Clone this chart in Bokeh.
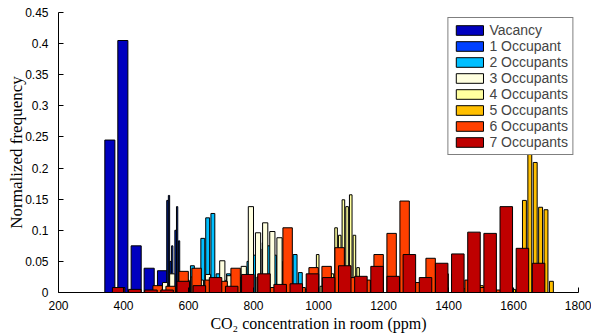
from bokeh.plotting import figure
from bokeh.models import Range1d, FixedTicker, Legend, LegendItem, ColumnDataSource
from bokeh.embed import file_html
from bokeh.resources import INLINE

# ---------------- data ----------------
categories = ["Vacancy", "1 Occupant", "2 Occupants", "3 Occupants",
              "4 Occupants", "5 Occupants", "6 Occupants", "7 Occupants"]

vac_x = [358, 398, 439, 479, 520]
vac_y = [0.245, 0.405, 0.075, 0.039, 0.035]

one_x = [535, 540, 545, 550, 555, 560, 565, 571]
one_y = [0.148, 0.156, 0.05, 0.075, 0.02, 0.100, 0.138, 0.083]

two_x = [612, 628, 644, 659, 675, 691, 707, 723, 738, 754, 770, 786,
         802, 817, 833, 849, 865, 881, 896, 912, 928, 944, 960]
two_y = [0.043, 0.020, 0.087, 0.120, 0.127, 0.030, 0.020, 0.030, 0.030, 0.025, 0.035, 0.050,
         0.060, 0.070, 0.080, 0.075, 0.060, 0.050, 0.050, 0.035, 0.061, 0.032, 0.005]

three_x = [528, 550, 572, 594, 616, 638, 660, 682, 704, 726, 748, 770,
           792, 814, 836, 858, 880, 902, 924]
three_y = [0.016, 0.030, 0.010, 0.020, 0.025, 0.020, 0.029, 0.020, 0.051, 0.027, 0.030, 0.042,
           0.138, 0.096, 0.112, 0.098, 0.088, 0.020, 0.008]

four_x = [997.5, 1008.8, 1020.1, 1031.4, 1042.7, 1054.0, 1065.3, 1076.6,
          1087.9, 1099.2, 1110.5, 1121.8, 1133.1]
four_y = [0.061, 0.010, 0.010, 0.020, 0.030, 0.104, 0.092, 0.149,
          0.138, 0.157, 0.092, 0.040, 0.005]

five_x = [1451.0, 1467.6, 1484.2, 1500.8, 1517.4, 1534.0, 1550.6, 1567.2, 1583.8,
          1600.4, 1617.0, 1633.6, 1650.2, 1666.8, 1683.4, 1700.0, 1716.6]
five_y = [0.006, 0.003, 0.003, 0.011, 0.003, 0.003, 0.003, 0.005, 0.005,
          0.005, 0.040, 0.148, 0.270, 0.209, 0.137, 0.133, 0.018]

six_x = [505, 545, 585, 625, 665, 705, 745, 785, 825, 865, 905, 945, 985, 1025,
         1065, 1105, 1145, 1185, 1225, 1265, 1305, 1345, 1385, 1425, 1465, 1505, 1545]
six_y = [0.011, 0.010, 0.034, 0.039, 0.020, 0.018, 0.039, 0.020, 0.025, 0.008, 0.104, 0.008, 0.040, 0.042,
         0.072, 0.024, 0.020, 0.061, 0.095, 0.147, 0.016, 0.055, 0.030, 0.030, 0.020, 0.008, 0.004]

seven_x = [385.0, 434.7, 484.4, 534.1, 583.8, 633.5, 683.2, 732.9, 782.6, 832.3, 882.0, 931.7, 981.4, 1031.1,
           1080.8, 1130.5, 1180.2, 1229.9, 1279.6, 1329.3, 1379.0, 1428.7, 1478.4, 1528.1, 1577.8, 1627.5, 1677.2]
seven_y = [0.008, 0.005, 0.004, 0.004, 0.018, 0.011, 0.024, 0.010, 0.029, 0.030, 0.013, 0.014, 0.030, 0.024,
           0.043, 0.026, 0.042, 0.026, 0.061, 0.024, 0.047, 0.062, 0.097, 0.095, 0.138, 0.071, 0.047]

x_ticks = [200, 400, 600, 800, 1000, 1200, 1400, 1600, 1800]
x_tick_labels = ["200", "400", "600", "800", "1000", "1200", "1400", "1600", "1800"]
y_ticks = [0, 0.05, 0.1, 0.15, 0.2, 0.25, 0.3, 0.35, 0.4, 0.45]
y_tick_labels = ["0", "0.05", "0.1", "0.15", "0.2", "0.25", "0.3", "0.35", "0.4", "0.45"]

# ---------------- style ----------------
colors = ["#0000BF", "#0040FF", "#00BFFF", "#FFFFDF",
          "#FFFF9F", "#FFBF00", "#FF4000", "#BF0000"]
widths = [31, 4, 12, 16, 8, 12, 29, 38.5]

series = [(vac_x, vac_y), (one_x, one_y), (two_x, two_y), (three_x, three_y),
          (four_x, four_y), (five_x, five_y), (six_x, six_y), (seven_x, seven_y)]

p = figure(width=591, height=335, output_backend="svg", toolbar_location=None,
           x_range=Range1d(200, 1800), y_range=Range1d(0, 0.45),
           min_border_left=58, min_border_right=13, min_border_top=12, min_border_bottom=43)

items = []
for name, (xs, ys), col, w in zip(categories, series, colors, widths):
    src = ColumnDataSource(dict(x=xs, top=ys))
    r = p.vbar(x="x", top="top", width=w, bottom=0, source=src,
               fill_color=col, line_color="black", line_width=1)
    items.append(LegendItem(label=name, renderers=[r]))

legend = Legend(items=items, location="top_right", margin=5, padding=4, spacing=0,
                glyph_width=34, glyph_height=12, label_height=16, label_standoff=3,
                label_text_font="Liberation Sans", label_text_font_size="14px",
                border_line_color="black", border_line_width=1,
                background_fill_color="white", background_fill_alpha=1.0)
p.add_layout(legend, "center")

p.xgrid.visible = False
p.ygrid.visible = False
p.outline_line_color = None

for ax in (p.xaxis[0], p.yaxis[0]):
    ax.axis_line_color = "black"
    ax.major_tick_line_color = "black"
    ax.major_tick_in = 5
    ax.major_tick_out = 0
    ax.minor_tick_line_color = None
    ax.major_label_text_font = "Liberation Sans"
    ax.major_label_text_font_size = "12px"
    ax.major_label_text_color = "black"
    ax.axis_label_text_font = "Liberation Serif"
    ax.axis_label_text_font_style = "normal"
    ax.axis_label_text_color = "black"

p.xaxis[0].ticker = FixedTicker(ticks=x_ticks)
p.xaxis[0].major_label_overrides = dict(zip(x_ticks, x_tick_labels))
p.xaxis[0].major_label_standoff = 8
p.xaxis[0].axis_label = "CO\u2082 concentration in room (ppm)"
p.xaxis[0].axis_label_text_font_size = "16px"
p.xaxis[0].axis_label_standoff = 2

p.yaxis[0].ticker = FixedTicker(ticks=y_ticks)
p.yaxis[0].major_label_overrides = dict(zip(y_ticks, y_tick_labels))
p.yaxis[0].major_label_standoff = 10
p.yaxis[0].axis_label = "Normalized frequency"
p.yaxis[0].axis_label_text_font_size = "17px"
p.yaxis[0].axis_label_standoff = -4

open("out.html", "w").write(file_html(p, INLINE))
